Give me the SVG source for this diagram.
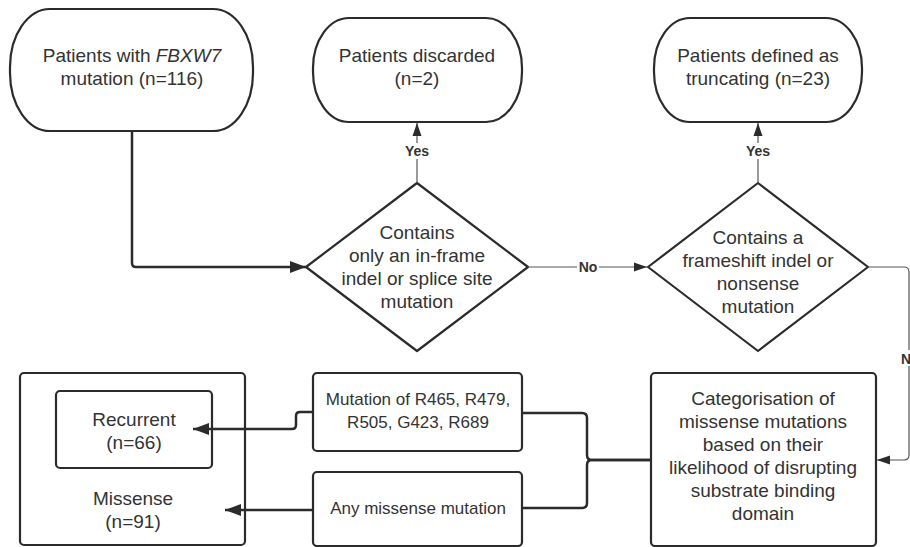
<svg xmlns="http://www.w3.org/2000/svg" width="910" height="547" viewBox="0 0 910 547">
<defs>
<style>
.n{fill:#fff;stroke:#2b2b2b;stroke-width:2.2}
.t{font-family:"Liberation Sans",Arial,sans-serif;font-size:19px;fill:#333;text-anchor:middle}
.s{font-size:17px}
.lab{font-family:"Liberation Sans",Arial,sans-serif;font-size:14px;font-weight:bold;fill:#333;text-anchor:middle}
.thick{fill:none;stroke:#2b2b2b;stroke-width:2.5}
.thin{fill:none;stroke:#555;stroke-width:1.2}
</style>
<marker id="ab" markerUnits="userSpaceOnUse" markerWidth="18" markerHeight="14" refX="16" refY="7" orient="auto">
<path d="M0,1 L16,7 L0,13 Z" fill="#2b2b2b"/>
</marker>
<marker id="as" markerUnits="userSpaceOnUse" markerWidth="14" markerHeight="10" refX="13" refY="5" orient="auto">
<path d="M0,0.5 L13,5 L0,9.5 Z" fill="#2b2b2b"/>
</marker>
</defs>
<rect width="910" height="547" fill="#fff"/>

<g id="n1">
<rect class="n" x="10" y="9" width="243" height="122" rx="40" ry="58"/>
<text class="t" x="132" y="62">Patients with <tspan font-style="italic">FBXW7</tspan></text>
<text class="t" x="132" y="85">mutation (n=116)</text>
</g>

<g id="n2">
<rect class="n" x="313" y="18" width="209" height="104" rx="36" ry="50"/>
<text class="t" x="417" y="62">Patients discarded</text>
<text class="t" x="417" y="85">(n=2)</text>
</g>

<g id="n3">
<rect class="n" x="654" y="18" width="208" height="104" rx="36" ry="50"/>
<text class="t" x="758" y="62">Patients defined as</text>
<text class="t" x="758" y="85">truncating (n=23)</text>
</g>

<g id="d1">
<path class="n" stroke-linejoin="round" d="M417,183 L528,267 L417,351 L306,267 Z"/>
<text class="t" x="417" y="239">Contains</text>
<text class="t" x="417" y="262">only an in-frame</text>
<text class="t" x="417" y="285">indel or splice site</text>
<text class="t" x="417" y="308">mutation</text>
</g>

<g id="d2">
<path class="n" stroke-linejoin="round" d="M758,183 L868,267 L758,351 L648,267 Z"/>
<text class="t" x="758" y="244">Contains a</text>
<text class="t" x="758" y="267">frameshift indel or</text>
<text class="t" x="758" y="290">nonsense</text>
<text class="t" x="758" y="313">mutation</text>
</g>

<g id="cat">
<rect class="n" x="651" y="373" width="225" height="173" rx="4"/>
<text class="t" x="763" y="405">Categorisation of</text>
<text class="t" x="763" y="428">missense mutations</text>
<text class="t" x="763" y="451">based on their</text>
<text class="t" x="763" y="474">likelihood of disrupting</text>
<text class="t" x="763" y="497">substrate binding</text>
<text class="t" x="763" y="520">domain</text>
</g>

<g id="mut">
<rect class="n" x="313" y="373" width="209" height="78" rx="4"/>
<text class="t s" x="418" y="405">Mutation of R465, R479,</text>
<text class="t s" x="418" y="428">R505, G423, R689</text>
</g>

<g id="any">
<rect class="n" x="313" y="472" width="209" height="74" rx="4"/>
<text class="t s" x="418" y="514">Any missense mutation</text>
</g>

<g id="missense">
<rect class="n" x="20" y="373" width="225" height="172" rx="4" style="fill:none"/>
<text class="t" x="133" y="505">Missense</text>
<text class="t" x="133" y="528">(n=91)</text>
</g>

<g id="recurrent">
<rect class="n" x="56" y="391" width="156" height="77" rx="4"/>
<text class="t" x="134" y="426">Recurrent</text>
<text class="t" x="134" y="449">(n=66)</text>
</g>

<g id="connectors">
<path class="thick" d="M132,131 V263 Q132,267 136,267 H306" marker-end="url(#ab)"/>
<path class="thin" d="M417,183 V123" marker-end="url(#as)"/>
<path class="thin" d="M758,183 V123" marker-end="url(#as)"/>
<path class="thin" d="M528,267 H647" marker-end="url(#as)"/>
<path class="thin" d="M868,267 H904 Q909,267 909,272 V455 Q909,460 904,460 H877" marker-end="url(#as)"/>
<path class="thick" d="M651,460 H592 Q587,460 587,455 V418 Q587,413 582,413 H522"/>
<path class="thick" d="M651,460 H592 Q587,460 587,465 V503 Q587,508 582,508 H522"/>
<path class="thick" d="M313,412 H300 Q296,412 296,416 V425 Q296,429 292,429 H193" marker-end="url(#ab)"/>
<path class="thick" d="M313,510 H225" marker-end="url(#ab)"/>
<rect x="403" y="143" width="28" height="16" fill="#fff"/>
<text class="lab" x="417" y="156">Yes</text>
<rect x="744" y="143" width="28" height="16" fill="#fff"/>
<text class="lab" x="758" y="156">Yes</text>
<rect x="577" y="260" width="22" height="15" fill="#fff"/>
<text class="lab" x="588" y="272">No</text>
<rect x="899" y="350" width="11" height="16" fill="#fff"/>
<text class="lab" x="901" y="364" style="text-anchor:start">No</text>
</g>
</svg>
